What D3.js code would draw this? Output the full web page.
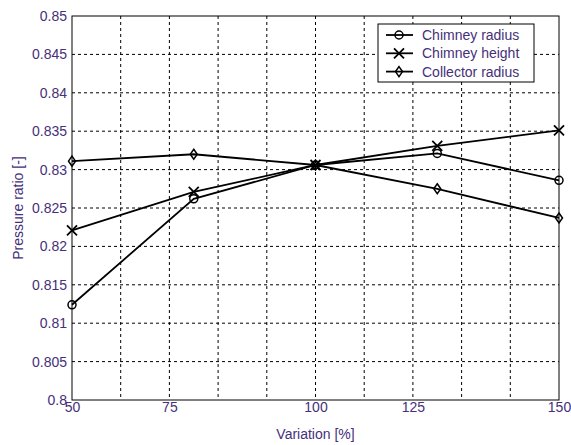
<!DOCTYPE html>
<html>
<head>
<meta charset="utf-8">
<script src="https://cdn.jsdelivr.net/npm/d3@7"></script>
<style>
  body { margin: 0; background: #fff; }
  text { font-family: "Liberation Sans", Arial, sans-serif; }
</style>
</head>
<body>
<div id="chart"></div>
<script>
// values
const variation = [50, 75, 100, 125, 150];
const chimneyRadius = [0.8124, 0.8262, 0.8306, 0.8321, 0.8286];
const chimneyHeight = [0.8221, 0.8271, 0.8306, 0.8331, 0.8351];
const collectorRadius = [0.8311, 0.8320, 0.8306, 0.8275, 0.8237];

const seriesNames = ["Chimney radius", "Chimney height", "Collector radius"];
const seriesShapes = ["circle", "cross", "diamond"];

// x ticks: grid every 10, labels put where the original figure had them
const xGrid = [50, 60, 70, 80, 90, 100, 110, 120, 130, 140, 150];
const xLabelPos = [50, 70, 100, 120, 150];
const xLabelText = ["50", "75", "100", "125", "150"];
const yTicks = [0.8, 0.805, 0.81, 0.815, 0.82, 0.825, 0.83, 0.835, 0.84, 0.845, 0.85];

const series = seriesNames.map((name, i) => ({
    name: name,
    shape: seriesShapes[i],
    values: [chimneyRadius, chimneyHeight, collectorRadius][i]
        .map((v, j) => ({x: variation[j], y: v}))
}));

const W = 571, H = 445;
const margins = {top: 16, right: 12, bottom: 45, left: 72};
const width = W - margins.left - margins.right;
const height = H - margins.top - margins.bottom;
const textColor = "#45307a";
const fontSize = "14px";

const svg = d3.select("#chart").append("svg")
    .attr("width", W)
    .attr("height", H)
  .append("g")
    .attr("transform", `translate(${margins.left}, ${margins.top})`);

const xScale = d3.scaleLinear().domain([50, 150]).range([0, width]);
const yScale = d3.scaleLinear().domain([0.8, 0.85]).range([height, 0]);

// dashed grid
svg.append("g")
    .selectAll("line")
    .data(xGrid.slice(1, -1))
    .join("line")
        .attr("x1", d => xScale(d)).attr("x2", d => xScale(d))
        .attr("y1", 0).attr("y2", height)
        .attr("stroke", "#000")
        .attr("stroke-dasharray", "3,3");

svg.append("g")
    .selectAll("line")
    .data(yTicks.slice(1, -1))
    .join("line")
        .attr("x1", 0).attr("x2", width)
        .attr("y1", d => yScale(d)).attr("y2", d => yScale(d))
        .attr("stroke", "#000")
        .attr("stroke-dasharray", "3,3");

// box
svg.append("rect")
    .attr("width", width)
    .attr("height", height)
    .attr("fill", "none")
    .attr("stroke", "#000")
    .attr("stroke-width", 1);

// y axis tick labels
const yAxis = svg.append("g")
    .call(d3.axisLeft(yScale).tickValues(yTicks).tickSize(0).tickPadding(5)
        .tickFormat(d => d3.format("")(+d.toFixed(3))));
yAxis.select(".domain").remove();
yAxis.selectAll("text")
    .attr("fill", textColor)
    .style("font-size", fontSize)
    .style("font-family", "'Liberation Sans', Arial, sans-serif");

// x axis tick labels
const xAxis = svg.append("g")
    .attr("transform", `translate(0, ${height})`)
    .call(d3.axisBottom(xScale).tickValues(xLabelPos).tickSize(0).tickPadding(2)
        .tickFormat((d, i) => xLabelText[i]));
xAxis.select(".domain").remove();
xAxis.selectAll("text")
    .attr("fill", textColor)
    .style("font-size", fontSize)
    .style("font-family", "'Liberation Sans', Arial, sans-serif");

// axis titles
svg.append("text")
    .attr("x", width / 2)
    .attr("y", height + 39)
    .attr("text-anchor", "middle")
    .attr("fill", textColor)
    .style("font-size", fontSize)
    .text("Variation [%]");

svg.append("text")
    .attr("transform", `translate(${-49}, ${height / 2}) rotate(-90)`)
    .attr("text-anchor", "middle")
    .attr("fill", textColor)
    .style("font-size", fontSize)
    .text("Pressure ratio [-]");

// markers
function drawMarker(g, shape) {
    if (shape === "circle") {
        g.append("circle").attr("r", 4)
            .attr("fill", "none").attr("stroke", "#000").attr("stroke-width", 1.5);
    } else if (shape === "cross") {
        g.append("path").attr("d", "M-5,-5L5,5M-5,5L5,-5")
            .attr("stroke", "#000").attr("stroke-width", 1.8);
    } else {
        g.append("path").attr("d", "M0,-5L3.5,0L0,5L-3.5,0Z")
            .attr("fill", "none").attr("stroke", "#000").attr("stroke-width", 1.5);
    }
}

const line = d3.line().x(d => xScale(d.x)).y(d => yScale(d.y));

series.forEach(s => {
    svg.append("path")
        .datum(s.values)
        .attr("d", line)
        .attr("fill", "none")
        .attr("stroke", "#000")
        .attr("stroke-width", 1.8);

    svg.append("g")
        .selectAll("g")
        .data(s.values)
        .join("g")
            .attr("transform", d => `translate(${xScale(d.x)}, ${yScale(d.y)})`)
            .each(function() { drawMarker(d3.select(this), s.shape); });
});

// legend
const legend = svg.append("g")
    .attr("transform", `translate(${378 - margins.left}, ${24 - margins.top})`);

legend.append("rect")
    .attr("width", 156)
    .attr("height", 58)
    .attr("fill", "#fff")
    .attr("stroke", "#000");

const legendRows = legend.selectAll("g")
    .data(series)
    .join("g")
        .attr("transform", (d, i) => `translate(0, ${11 + i * 18.3})`);

legendRows.append("line")
    .attr("x1", 8).attr("x2", 35)
    .attr("stroke", "#000").attr("stroke-width", 1.8);

legendRows.append("g")
    .attr("transform", "translate(21, 0)")
    .each(function(d) { drawMarker(d3.select(this), d.shape); });

legendRows.append("text")
    .attr("x", 44)
    .attr("dy", "0.35em")
    .attr("fill", textColor)
    .style("font-size", fontSize)
    .text(d => d.name);
</script>
</body>
</html>
